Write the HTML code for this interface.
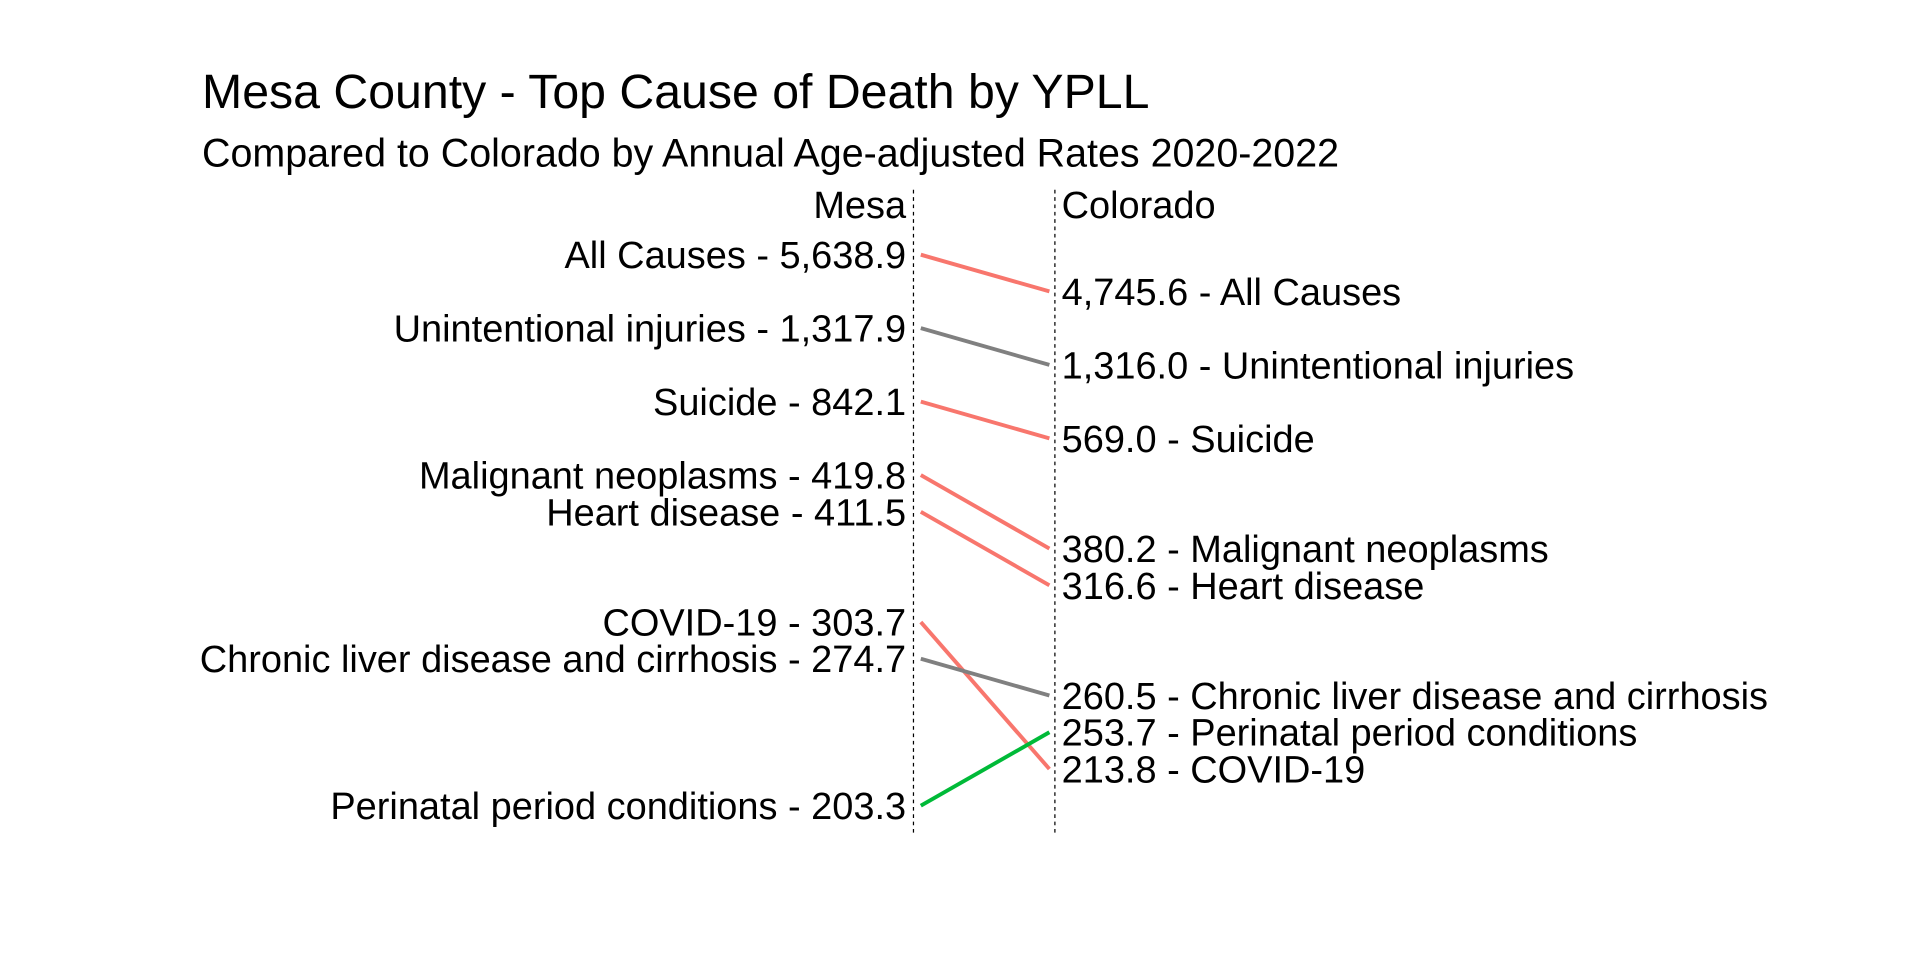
<!DOCTYPE html>
<html><head><meta charset="utf-8"><style>
html,body{margin:0;padding:0;background:#fff;}
svg{display:block;font-family:"Liberation Sans",Arial,sans-serif;}
</style></head><body>
<svg id="chart" width="1920" height="960" viewBox="0 0 1568 784" xmlns="http://www.w3.org/2000/svg">
<text x="165" y="88" font-size="39.4" fill="#000">Mesa County - Top Cause of Death by YPLL</text>
<text x="165" y="136" font-size="32.2" fill="#000">Compared to Colorado by Annual Age-adjusted Rates 2020-2022</text>
<text x="740" y="178" font-size="31" text-anchor="end" fill="#000">Mesa</text>
<text x="867" y="178" font-size="31" fill="#000">Colorado</text>
<line x1="746" y1="155" x2="746" y2="681" stroke="#000" stroke-width="1" stroke-dasharray="3,3"/>
<line x1="861.5" y1="155" x2="861.5" y2="681" stroke="#000" stroke-width="1" stroke-dasharray="3,3"/>
<g id="marks"></g>
</svg>
<script>
const causes = ["All Causes","Unintentional injuries","Suicide","Malignant neoplasms","Heart disease","COVID-19","Chronic liver disease and cirrhosis","Perinatal period conditions"];
const mesaValues = [5638.9,1317.9,842.1,419.8,411.5,303.7,274.7,203.3];
const coloradoValues = [4745.6,1316.0,569.0,380.2,316.6,213.8,260.5,253.7];
const changeClass = ["worse","same","worse","worse","worse","worse","same","better"];
const classColors = {worse:"#F8766D", same:"#808080", better:"#00BA38"};

const all = mesaValues.concat(coloradoValues).slice().sort((a,b)=>b-a);
function yPos(v){ return 208 + 30*all.indexOf(v); }
const xL = 752, xR = 857;
function fmt(v){ return v.toLocaleString("en-US",{minimumFractionDigits:1,maximumFractionDigits:1}); }
const NS="http://www.w3.org/2000/svg";
const g=document.getElementById("marks");
causes.forEach((c,i)=>{
  const y1=yPos(mesaValues[i]), y2=yPos(coloradoValues[i]);
  const ln=document.createElementNS(NS,"line");
  
  
  ln.setAttribute("x1",xL);ln.setAttribute("y1",y1);ln.setAttribute("x2",xR);ln.setAttribute("y2",y2);
  ln.setAttribute("stroke",classColors[changeClass[i]]);ln.setAttribute("stroke-width","3.2");
  g.appendChild(ln);
  const t1=document.createElementNS(NS,"text");
  
  
  t1.setAttribute("x",740);t1.setAttribute("y",y1+11);t1.setAttribute("font-size","31");t1.setAttribute("text-anchor","end");
  t1.textContent=c+" - "+fmt(mesaValues[i]);
  g.appendChild(t1);
  const t2=document.createElementNS(NS,"text");
  
  
  t2.setAttribute("x",867);t2.setAttribute("y",y2+11);t2.setAttribute("font-size","31");
  t2.textContent=fmt(coloradoValues[i])+" - "+c;
  g.appendChild(t2);
});
</script>
</body></html>
